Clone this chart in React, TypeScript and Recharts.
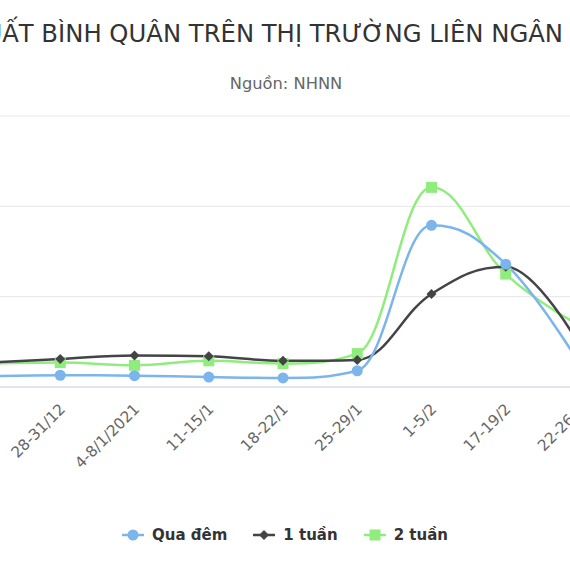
import React from "react";
import { LineChart, Line, XAxis, YAxis, CartesianGrid } from "recharts";

const categories = ["21-25/12", "28-31/12", "4-8/1/2021", "11-15/1", "18-22/1", "25-29/1", "1-5/2", "17-19/2", "22-26/2"];
const quaDem = [0.12, 0.13, 0.125, 0.11, 0.1, 0.18, 1.79, 1.36, 0.25];
const motTuan = [0.27, 0.31, 0.35, 0.34, 0.29, 0.3, 1.03, 1.33, 0.45];
const haiTuan = [0.26, 0.27, 0.24, 0.29, 0.26, 0.37, 2.21, 1.25, 0.68];
const yTicks = [0, 1, 2, 3];

const seriesNames = ["Qua đêm", "1 tuần", "2 tuần"];
const seriesColors = ["#7cb5ec", "#434348", "#90ed7d"];

const data = categories.map((c, i) => ({ cat: c, qd: quaDem[i], t1: motTuan[i], t2: haiTuan[i] }));

const FONT = "'DejaVu Sans', sans-serif";

// Highcharts-like spline curve
function hcSpline(context: any) {
  let pts: number[][] = [];
  return {
    areaStart() {},
    areaEnd() {},
    lineStart() {
      pts = [];
    },
    lineEnd() {
      const n = pts.length;
      if (!n) return;
      const sm = 1.5;
      const den = sm + 1;
      const lc: (number[] | null)[] = [];
      const rc: (number[] | null)[] = [];
      for (let i = 0; i < n; i++) {
        const [x, y] = pts[i];
        if (i > 0 && i < n - 1) {
          const [lx, ly] = pts[i - 1];
          const [nx, ny] = pts[i + 1];
          const lcx = (sm * x + lx) / den;
          let lcy = (sm * y + ly) / den;
          const rcx = (sm * x + nx) / den;
          let rcy = (sm * y + ny) / den;
          let corr = 0;
          if (rcx !== lcx) corr = ((rcy - lcy) * (rcx - x)) / (rcx - lcx) + y - rcy;
          lcy += corr;
          rcy += corr;
          if (lcy > ly && lcy > y) {
            lcy = Math.max(ly, y);
            rcy = 2 * y - lcy;
          } else if (lcy < ly && lcy < y) {
            lcy = Math.min(ly, y);
            rcy = 2 * y - lcy;
          }
          if (rcy > ny && rcy > y) {
            rcy = Math.max(ny, y);
            lcy = 2 * y - rcy;
          } else if (rcy < ny && rcy < y) {
            rcy = Math.min(ny, y);
            lcy = 2 * y - rcy;
          }
          lc[i] = [lcx, lcy];
          rc[i] = [rcx, rcy];
        } else {
          lc[i] = null;
          rc[i] = null;
        }
      }
      context.moveTo(pts[0][0], pts[0][1]);
      for (let i = 1; i < n; i++) {
        const a = rc[i - 1] || pts[i - 1];
        const b = lc[i] || pts[i];
        context.bezierCurveTo(a[0], a[1], b[0], b[1], pts[i][0], pts[i][1]);
      }
    },
    point(x: number, y: number) {
      pts.push([+x, +y]);
    },
  };
}

const CircleDot = (p: any) => (
  <circle key={`c${p.index}`} cx={p.cx} cy={p.cy} r={5.5} fill={seriesColors[0]} />
);
const DiamondDot = (p: any) => {
  const s = 5;
  return (
    <path
      key={`d${p.index}`}
      d={`M${p.cx},${p.cy - s}L${p.cx + s},${p.cy}L${p.cx},${p.cy + s}L${p.cx - s},${p.cy}Z`}
      fill={seriesColors[1]}
    />
  );
};
const SquareDot = (p: any) => {
  const s = 5.5;
  return <rect key={`s${p.index}`} x={p.cx - s} y={p.cy - s} width={2 * s} height={2 * s} fill={seriesColors[2]} />;
};

const Tick = (props: any) => {
  const { x, y, payload } = props;
  return (
    <g transform={`translate(${x + 6},${y + 15})`}>
      <text x={0} y={0} textAnchor="end" transform="rotate(-45)" fill="#666666" fontSize={15.3} fontFamily={FONT}>
        {payload.value}
      </text>
    </g>
  );
};

const LegendSymbol = ({ i }: { i: number }) => {
  const c = seriesColors[i];
  return (
    <svg width={22} height={14} style={{ verticalAlign: "middle", marginRight: 8 }}>
      <line x1={0} y1={7} x2={22} y2={7} stroke={c} strokeWidth={2.5} />
      {i === 0 && <circle cx={11} cy={7} r={5.5} fill={c} />}
      {i === 1 && <path d="M11,2L16,7L11,12L6,7Z" fill={c} />}
      {i === 2 && <rect x={5.5} y={1.5} width={11} height={11} fill={c} />}
    </svg>
  );
};

export default function App() {
  return (
    <div
      style={{
        position: "fixed",
        left: 0,
        top: 0,
        width: 570,
        height: 570,
        overflow: "hidden",
        background: "#ffffff",
        fontFamily: FONT,
      }}
    >
      <div
        style={{
          position: "absolute",
          left: 283,
          top: 17,
          transform: "translateX(-50%)",
          whiteSpace: "nowrap",
          fontSize: 24.3,
          color: "#333333",
          lineHeight: "34px",
        }}
      >
        LÃI SUẤT BÌNH QUÂN TRÊN THỊ TRƯỜNG LIÊN NGÂN HÀNG
      </div>
      <div
        style={{
          position: "absolute",
          left: 286,
          top: 73,
          transform: "translateX(-50%)",
          whiteSpace: "nowrap",
          fontSize: 16.3,
          color: "#666666",
          lineHeight: "22px",
        }}
      >
        Nguồn: NHNN
      </div>
      <div style={{ position: "absolute", left: -14.3, top: 0 }}>
        <LineChart width={594} height={570} data={data} margin={{ top: 116, right: 0, bottom: 123, left: 0 }}>
          <CartesianGrid vertical={false} stroke="#e6e6e6" strokeWidth={1} />
          <YAxis hide domain={[0, 3]} ticks={yTicks} type="number" />
          <XAxis
            dataKey="cat"
            interval={0}
            tickLine={false}
            axisLine={{ stroke: "#ccd6eb", strokeWidth: 1 }}
            tick={<Tick />}
            height={60}
          />
          <Line dataKey="t2" name={seriesNames[2]} stroke={seriesColors[2]} strokeWidth={2.5} type={hcSpline as any} dot={SquareDot} activeDot={false} isAnimationActive={false} />
          <Line dataKey="t1" name={seriesNames[1]} stroke={seriesColors[1]} strokeWidth={2.5} type={hcSpline as any} dot={DiamondDot} activeDot={false} isAnimationActive={false} />
          <Line dataKey="qd" name={seriesNames[0]} stroke={seriesColors[0]} strokeWidth={2.5} type={hcSpline as any} dot={CircleDot} activeDot={false} isAnimationActive={false} />
        </LineChart>
      </div>
      <div
        style={{
          position: "absolute",
          left: 0,
          width: 570,
          top: 524,
          display: "flex",
          justifyContent: "center",
          alignItems: "center",
          fontSize: 15,
          fontWeight: "bold",
          color: "#333333",
          lineHeight: "22px",
        }}
      >
        {seriesNames.map((n, i) => (
          <span key={n} style={{ display: "inline-flex", alignItems: "center", marginRight: i < 2 ? 26 : 0 }}>
            <LegendSymbol i={i} />
            {n}
          </span>
        ))}
      </div>
    </div>
  );
}
